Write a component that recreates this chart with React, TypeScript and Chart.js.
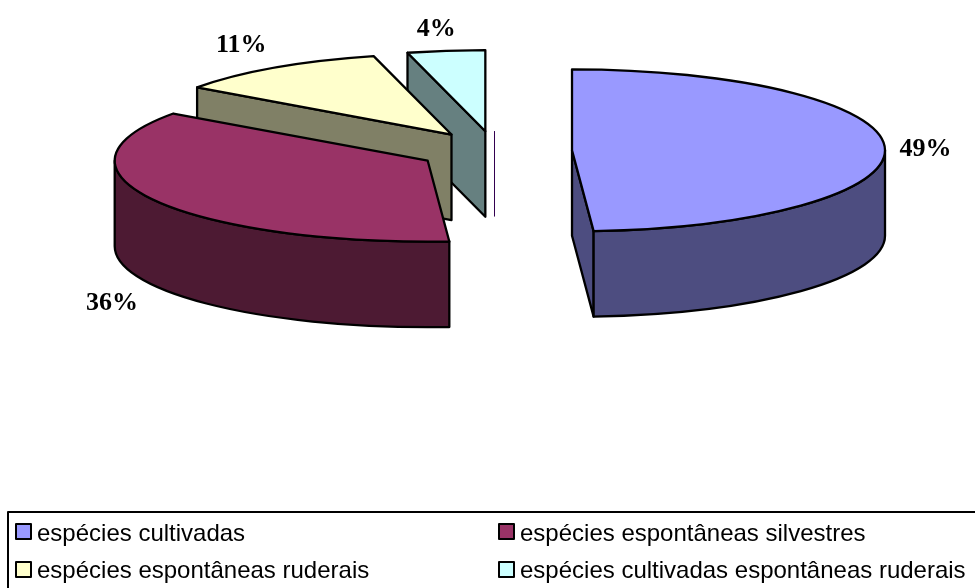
import React, { useEffect, useRef } from "react";
import { Chart, registerables } from "chart.js";

Chart.register(...registerables);

const categories = [
  "espécies cultivadas",
  "espécies espontâneas silvestres",
  "espécies espontâneas ruderais",
  "espécies cultivadas espontâneas ruderais",
  "",
];
const shares = [48.9, 36.0, 11.1, 4.0, 0];
const topColours = ["#9999ff", "#993366", "#ffffcc", "#ccffff", "#660066"];
const sideColours = ["#4d4d80", "#4d1a33", "#808066", "#668080", "#330050"];

// Projection of the flat pie into the tilted, extruded view.
const CX = 495;
const CY = 151;
const RX = 313;
const RY = 81;
const DEPTH = 85.5;
const EXPLODE = 194;
const LABEL_REACH_X = [1.13, 1.155, 1.19, 1.25, 0];
const LABEL_REACH_Y = [1.0, 1.42, 1.36, 1.28, 0];

const pie3d = {
  id: "pie3d",
  beforeDatasetsDraw(chart: any) {
    const { ctx } = chart;
    const arcs = chart.getDatasetMeta(0).data;
    const order = arcs.map((_: any, i: number) => i).reverse();
    ctx.save();
    ctx.lineJoin = "round";
    for (const i of order) {
      const arc = arcs[i];
      const { startAngle: a, endAngle: b, outerRadius: R } = arc.getProps(["startAngle", "endAngle", "outerRadius"]);
      const mid = (a + b) / 2;
      const shift = (arc.options.offset || 0) / 4;
      const x = CX + (Math.cos(mid) * shift * RX) / R;
      const y = CY + (Math.sin(mid) * shift * RY) / R;
      const px = (t: number) => x + Math.cos(t) * RX;
      const py = (t: number) => y + Math.sin(t) * RY;
      const top = topColours[i];
      const side = sideColours[i];

      if (b - a < 1e-6) {
        // An empty slice only leaves the thin line of its cut face.
        ctx.strokeStyle = side;
        ctx.lineWidth = 1;
        ctx.beginPath();
        ctx.moveTo(x - 0.5, y);
        ctx.lineTo(x - 0.5, y + DEPTH);
        ctx.stroke();
        continue;
      }

      ctx.strokeStyle = "#000";
      ctx.lineWidth = 2.3;
      ctx.fillStyle = side;
      const quad = (t: number) => {
        ctx.beginPath();
        ctx.moveTo(x, y);
        ctx.lineTo(px(t), py(t));
        ctx.lineTo(px(t), py(t) + DEPTH);
        ctx.lineTo(x, y + DEPTH);
        ctx.closePath();
        ctx.fill();
        ctx.stroke();
      };
      if (Math.cos(a) < -1e-6) quad(a);
      if (Math.cos(b) > 1e-6) quad(b);

      const r0 = Math.max(a, 0);
      const r1 = Math.min(b, Math.PI);
      if (r1 > r0) {
        ctx.beginPath();
        ctx.ellipse(x, y, RX, RY, 0, r0, r1);
        ctx.lineTo(px(r1), py(r1) + DEPTH);
        ctx.ellipse(x, y + DEPTH, RX, RY, 0, r1, r0, true);
        ctx.closePath();
        ctx.fill();
        ctx.stroke();
      }

      ctx.fillStyle = top;
      ctx.beginPath();
      ctx.moveTo(x, y);
      ctx.ellipse(x, y, RX, RY, 0, a, b);
      ctx.closePath();
      ctx.fill();
      ctx.stroke();
    }

    ctx.fillStyle = "#000";
    ctx.font = 'bold 26px "Liberation Serif"';
    ctx.textAlign = "center";
    ctx.textBaseline = "alphabetic";
    arcs.forEach((arc: any, i: number) => {
      if (!shares[i]) return;
      const { startAngle: a, endAngle: b, outerRadius: R } = arc.getProps(["startAngle", "endAngle", "outerRadius"]);
      const mid = (a + b) / 2;
      const shift = (arc.options.offset || 0) / 4;
      const x = CX + (Math.cos(mid) * shift * RX) / R;
      const y = CY + (Math.sin(mid) * shift * RY) / R;
      const below = Math.sin(mid) > 0.1 ? DEPTH : 0;
      ctx.fillText(
        Math.round(shares[i]) + "%",
        x + Math.cos(mid) * RX * LABEL_REACH_X[i],
        y + Math.sin(mid) * RY * LABEL_REACH_Y[i] + below + 8,
      );
    });

    // Legend frame, two columns by two rows, running past the right edge.
    ctx.strokeStyle = "#000";
    ctx.lineWidth = 2;
    ctx.strokeRect(8, 512, 1100, 200);
    ctx.font = '24px "Liberation Sans"';
    ctx.textAlign = "left";
    categories.forEach((label, i) => {
      if (!label) return;
      const col = i % 2;
      const row = Math.floor(i / 2);
      const sx = col ? 499 : 16;
      const sy = row ? 562 : 524;
      ctx.fillStyle = topColours[i];
      ctx.fillRect(sx, sy, 15, 15);
      ctx.strokeStyle = "#000";
      ctx.lineWidth = 2;
      ctx.strokeRect(sx, sy, 15, 15);
      ctx.fillStyle = "#000";
      ctx.fillText(label, col ? 520 : 37, row ? 578 : 541);
    });
    ctx.restore();
    return false;
  },
};

export default function App() {
  const ref = useRef<HTMLCanvasElement>(null);
  useEffect(() => {
    const chart = new Chart(ref.current!, {
      type: "pie",
      data: {
        labels: categories,
        datasets: [
          {
            data: shares,
            backgroundColor: topColours,
            borderWidth: 0,
            offset: EXPLODE,
          },
        ],
      },
      options: {
        animation: false,
        responsive: false,
        layout: { padding: 0 },
        plugins: { legend: { display: false }, tooltip: { enabled: false } },
      },
      plugins: [pie3d],
    } as any);
    return () => chart.destroy();
  }, []);
  return (
    <div style={{ position: "fixed", left: 0, top: 0, width: 975, height: 588, background: "#fff" }}>
      <canvas ref={ref} width={975} height={588} style={{ display: "block" }} />
    </div>
  );
}
